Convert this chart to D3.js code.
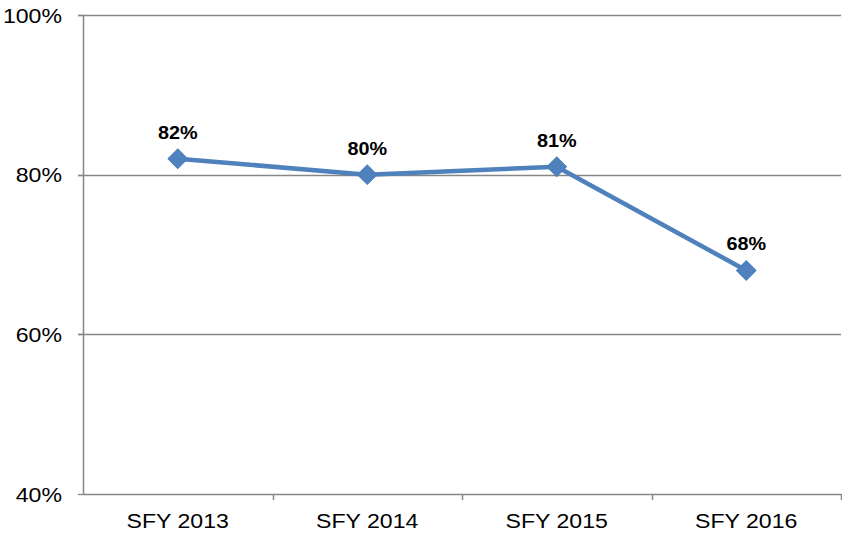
<!DOCTYPE html>
<html>
<head>
<meta charset="utf-8">
<script src="https://cdn.jsdelivr.net/npm/d3@7"></script>
<style>
  html, body { margin: 0; padding: 0; background: #fff; }
  svg { display: block; }
  text { font-family: "Liberation Sans", Arial, sans-serif; fill: #000; }
</style>
</head>
<body>
<svg id="chart" width="842" height="535"></svg>
<script>
const categories = ["SFY 2013", "SFY 2014", "SFY 2015", "SFY 2016"];
const values = [82, 80, 81, 68];
const yTicks = [40, 60, 80, 100];

const W = 842, H = 535;
const margin = { left: 83, right: 1, top: 15, bottom: 41 };
const svg = d3.select("#chart");

const x = d3.scaleBand().domain(categories).range([margin.left, W - margin.right]);
const y = d3.scaleLinear().domain([40, 100]).range([H - margin.bottom, margin.top]);

const grid = "#868686";
const stretch = 1.1;

// gridlines
svg.append("g").selectAll("line").data(yTicks.filter(d => d > 40)).join("line")
  .attr("x1", margin.left - 5).attr("x2", W - margin.right)
  .attr("y1", d => Math.round(y(d)) + 0.5).attr("y2", d => Math.round(y(d)) + 0.5)
  .attr("stroke", grid).attr("stroke-width", 1.3);

// y axis
const yAxis = svg.append("g");
yAxis.append("line")
  .attr("x1", margin.left + 0.5).attr("x2", margin.left + 0.5)
  .attr("y1", y(100)).attr("y2", y(40))
  .attr("stroke", grid).attr("stroke-width", 1.5);
yAxis.selectAll("line.tk").data(yTicks).join("line").attr("class", "tk")
  .attr("x1", margin.left - 5).attr("x2", margin.left)
  .attr("y1", d => Math.round(y(d)) + 0.5).attr("y2", d => Math.round(y(d)) + 0.5)
  .attr("stroke", grid).attr("stroke-width", 1.3);
yAxis.selectAll("text").data(yTicks).join("text")
  .attr("transform", d => `translate(62,${y(d) + 7.5}) scale(${stretch},1)`)
  .attr("text-anchor", "end")
  .style("font-size", "21px")
  .text(d => d + "%");

// x axis
const xAxis = svg.append("g");
xAxis.append("line")
  .attr("x1", margin.left).attr("x2", W - margin.right)
  .attr("y1", Math.round(y(40)) + 0.5).attr("y2", Math.round(y(40)) + 0.5)
  .attr("stroke", grid).attr("stroke-width", 1.5);
const bounds = categories.slice(1).map(c => x(c)).concat([W - margin.right - 0.5]);
xAxis.selectAll("line.tk").data(bounds).join("line").attr("class", "tk")
  .attr("x1", d => Math.round(d) + 0.5).attr("x2", d => Math.round(d) + 0.5)
  .attr("y1", y(40)).attr("y2", y(40) + 6)
  .attr("stroke", grid).attr("stroke-width", 1.5);
xAxis.selectAll("text").data(categories).join("text")
  .attr("transform", d => `translate(${x(d) + x.bandwidth() / 2},${y(40) + 34}) scale(${stretch},1)`)
  .attr("text-anchor", "middle")
  .style("font-size", "21px")
  .text(d => d);

// line
const pts = categories.map((c, i) => [x(c) + x.bandwidth() / 2, y(values[i])]);
svg.append("path")
  .attr("d", d3.line()(pts))
  .attr("fill", "none")
  .attr("stroke", "#4F81BD")
  .attr("stroke-width", 4.5)
  .attr("stroke-linejoin", "round");

// markers
const sym = d3.symbol().type(d3.symbolSquare).size(190);
svg.append("g").selectAll("path").data(pts).join("path")
  .attr("d", sym)
  .attr("transform", d => `translate(${d[0]},${d[1]}) rotate(45)`)
  .attr("fill", "#4F81BD")
  .attr("stroke", "#4A7EBB").attr("stroke-width", 1);

// data labels
svg.append("g").selectAll("text").data(pts).join("text")
  .attr("transform", (d) => `translate(${d[0]},${d[1] - 20}) scale(${stretch},1)`)
  .attr("text-anchor", "middle")
  .style("font-size", "18px")
  .style("font-weight", "bold")
  .text((d, i) => values[i] + "%");
</script>
</body>
</html>
